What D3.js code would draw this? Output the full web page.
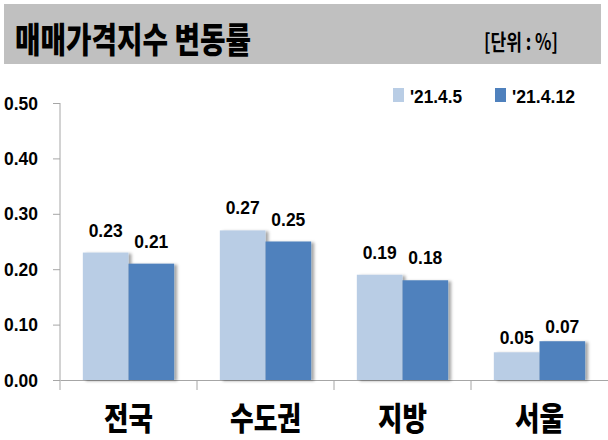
<!DOCTYPE html>
<html><head><meta charset="utf-8">
<script src="https://cdn.jsdelivr.net/npm/d3@7"></script>
<style>
html,body{margin:0;padding:0;background:#fff;}
svg{display:block;}
</style></head>
<body>
<svg id="chart" width="608" height="440"></svg>
<script>
const title = "매매가격지수 변동률";
const unitLabel = "[단위 : %]";
const categories = ["전국", "수도권", "지방", "서울"];
const seriesNames = ["'21.4.5", "'21.4.12"];
const seriesA = [0.23, 0.27, 0.19, 0.05];
const seriesB = [0.21, 0.25, 0.18, 0.07];
const yTicks = [0, 0.1, 0.2, 0.3, 0.4, 0.5];
const colors = ["#b9cde5", "#4f81bd"];

const svg = d3.select("#chart");
const numFont = "'Liberation Sans', Arial, sans-serif";
const krFont = "'Noto Sans CJK KR', 'Noto Sans', sans-serif";

// shadow filter
const defs = svg.append("defs");
const f = defs.append("filter").attr("id","sh").attr("x","-20%").attr("y","-20%").attr("width","150%").attr("height","140%");
f.append("feDropShadow").attr("dx",3).attr("dy",1).attr("stdDeviation",1.5).attr("flood-color","#000").attr("flood-opacity",0.35);

// title bar
svg.append("rect").attr("x",4).attr("y",4).attr("width",597).attr("height",60).attr("fill","#c0c0c0");
svg.append("text").attr("x",15).attr("y",53).attr("font-family",krFont).attr("font-weight",900)
  .attr("font-size",35).attr("textLength",236).attr("lengthAdjust","spacingAndGlyphs").attr("fill","#000").text(title);
svg.append("text").attr("x",484).attr("y",50).attr("font-family",krFont).attr("font-weight",700)
  .attr("font-size",22).attr("textLength",74).attr("lengthAdjust","spacingAndGlyphs").attr("fill","#000").text(unitLabel);

const x0 = d3.scaleBand().domain(categories).range([60, 608]).padding(0);
const x1 = d3.scaleBand().domain([0,1]).range([0, x0.bandwidth()]).paddingInner(0).paddingOuter(0.5);
const y = d3.scaleLinear().domain([0, 0.5]).range([380, 103]);

// y axis
const yAxis = svg.append("g").attr("transform","translate(60,0)")
  .call(d3.axisLeft(y).tickValues(yTicks).tickFormat(d3.format(".2f")).tickSize(7).tickPadding(15));
yAxis.select(".domain").attr("stroke","#a6a6a6").attr("d","M0,103V390");
yAxis.selectAll(".tick line").attr("stroke","#a6a6a6");
yAxis.selectAll(".tick text").attr("font-family",numFont).attr("font-weight","bold").attr("font-size",19)
  .attr("textLength",34).attr("lengthAdjust","spacingAndGlyphs").attr("fill","#000");

// x axis
const xAxis = svg.append("g").attr("transform","translate(0,380)")
  .call(d3.axisBottom(x0).tickSize(0).tickFormat(""));
xAxis.select(".domain").attr("stroke","#a6a6a6");
const bounds = categories.map(c => x0(c)).concat([x0.range()[1]]);
xAxis.selectAll(".sep").data(bounds.slice(1, -1)).enter().append("line")
  .attr("x1", d=>d).attr("x2", d=>d).attr("y1",0).attr("y2",10).attr("stroke","#a6a6a6");

// category labels
const catWidths = categories.map(c => c.length === 3 ? 71 : 49);
svg.append("g").selectAll("text").data(categories).enter().append("text")
  .attr("x", d => x0(d) + x0.bandwidth()/2 - catWidths[categories.indexOf(d)]/2)
  .attr("y", 430)
  .attr("font-family", krFont).attr("font-weight",900).attr("font-size",32)
  .attr("textLength", (d,i)=>catWidths[i]).attr("lengthAdjust","spacingAndGlyphs")
  .attr("fill","#000").text(d=>d);

// bars
const series = [seriesA, seriesB];
const labelGap = [16, 16, 16, 8];
series.forEach((vals, si) => {
  const g = svg.append("g");
  g.selectAll("rect").data(vals).enter().append("rect")
    .attr("x", (d,i) => x0(categories[i]) + x1(si))
    .attr("y", d => y(d))
    .attr("width", x1.bandwidth())
    .attr("height", d => y(0) - y(d))
    .attr("fill", colors[si])
    .attr("filter","url(#sh)");
});
series.forEach((vals, si) => {
  svg.append("g").selectAll("text").data(vals).enter().append("text")
    .attr("x", (d,i) => x0(categories[i]) + x1(si) + x1.bandwidth()/2 - 17)
    .attr("y", (d,i) => y(d) - labelGap[i])
    .attr("font-family", numFont).attr("font-weight","bold").attr("font-size",19).attr("fill","#000")
    .attr("textLength",34).attr("lengthAdjust","spacingAndGlyphs")
    .text(d => d3.format(".2f")(d));
});

// legend
const legX = [393, 495];
const legText = [410, 512];
const legW = [52, 63];
seriesNames.forEach((s, i) => {
  svg.append("rect").attr("x", legX[i]).attr("y", 88).attr("width", 11).attr("height", 14).attr("fill", colors[i]);
  svg.append("text").attr("x", legText[i]).attr("y", 103)
    .attr("font-family", numFont).attr("font-weight","bold").attr("font-size",19)
    .attr("textLength", legW[i]).attr("lengthAdjust","spacingAndGlyphs").attr("fill","#000").text(s);
});
</script>
</body></html>
